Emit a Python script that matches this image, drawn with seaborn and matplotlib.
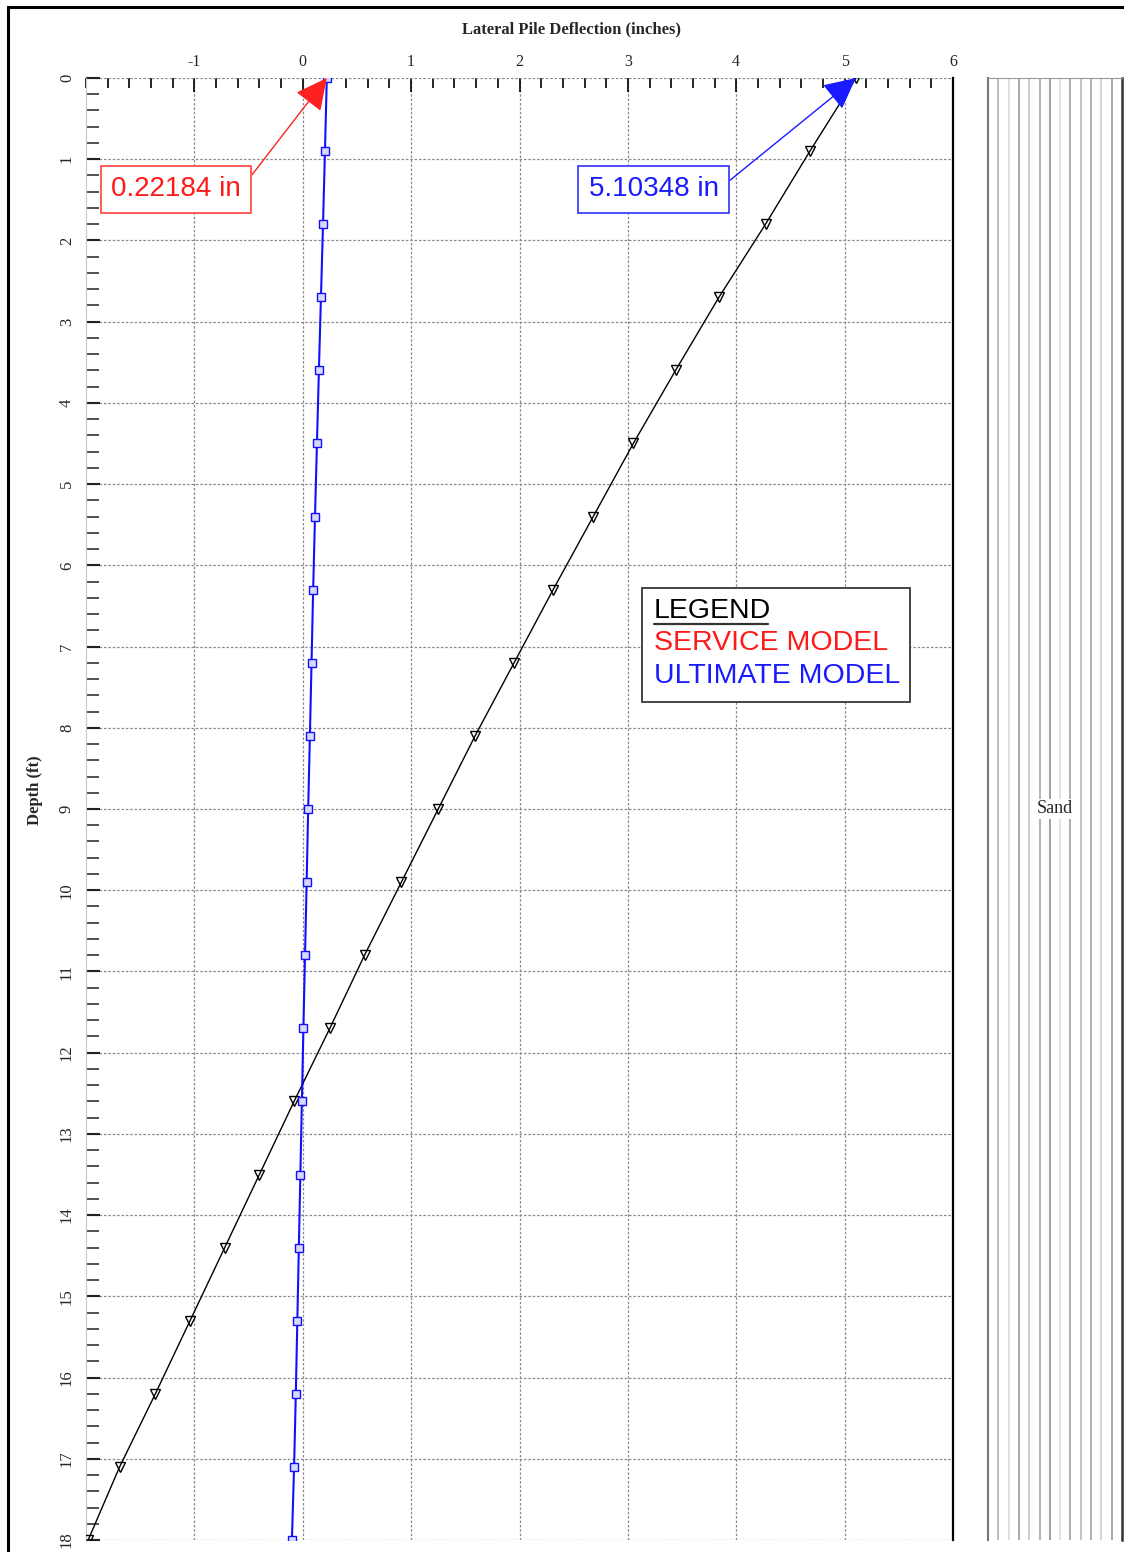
import matplotlib
matplotlib.use("Agg")
import matplotlib.pyplot as plt
from matplotlib.patches import Rectangle
from matplotlib.lines import Line2D
from matplotlib.ticker import MultipleLocator, FixedLocator
import seaborn as sns
import pandas as pd

# depths (ft) where the deflections were read, every 0.9 ft
depth = [0.0, 0.9, 1.8, 2.7, 3.6, 4.5, 5.4, 6.3, 7.2, 8.1, 9.0,
         9.9, 10.8, 11.7, 12.6, 13.5, 14.4, 15.3, 16.2, 17.1, 18.0]

# black curve (triangles) - ultimate model
defl_ultimate = [5.10348, 4.68, 4.27, 3.84, 3.44, 3.05, 2.68, 2.31, 1.95, 1.59, 1.25,
                 0.91, 0.57, 0.25, -0.08, -0.40, -0.72, -1.04, -1.36, -1.69, -1.98]

# blue curve (squares) - service model
defl_service = [0.22184, 0.205, 0.187, 0.168, 0.149, 0.131, 0.113, 0.096, 0.081, 0.066, 0.050,
                0.036, 0.021, 0.006, -0.008, -0.022, -0.036, -0.050, -0.064, -0.080, -0.100]

xtick_vals = [-1, 0, 1, 2, 3, 4, 5, 6]
ytick_vals = list(range(0, 19))

max_service = 0.22184
max_ultimate = 5.10348

df = pd.DataFrame({"Depth": depth, "Ultimate": defl_ultimate, "Service": defl_service})

sns.set_style("white")
plt.rcParams["font.family"] = ["Liberation Serif", "DejaVu Serif"]
plt.rcParams["axes.unicode_minus"] = False

W, H = 1124, 1552
fig = plt.figure(figsize=(W / 100, H / 100), dpi=100)

ax = fig.add_axes([86 / W, 1 - 1540 / H, (953 - 86) / W, (1540 - 78) / H])
soil = fig.add_axes([988 / W, 1 - 1540 / H, (1122 - 988) / W, (1540 - 78) / H])

# curves
sns.lineplot(data=df, x="Ultimate", y="Depth", sort=False, ax=ax, color="black", lw=1.0,
             marker="v", markersize=7.5, markerfacecolor="none", markeredgecolor="black",
             markeredgewidth=1.0, zorder=3)
sns.lineplot(data=df, x="Service", y="Depth", sort=False, ax=ax, color="#1010ff", lw=1.5,
             marker="s", markersize=6, markerfacecolor="#d8d8ff", markeredgecolor="#1010ff",
             markeredgewidth=1.0, zorder=4)

ax.set_xlim(-2, 6)
ax.set_ylim(18, 0)
ax.set_xlabel("")
ax.set_ylabel("")

# axis ticks on top / left, pointing inward
ax.xaxis.tick_top()
ax.xaxis.set_major_locator(FixedLocator(xtick_vals))
ax.xaxis.set_minor_locator(MultipleLocator(0.2))
ax.yaxis.set_major_locator(FixedLocator(ytick_vals))
ax.yaxis.set_minor_locator(MultipleLocator(0.2))
ax.tick_params(axis="x", which="major", direction="in", length=10, width=1.2, color="black",
               labelsize=11.5, pad=6, top=True, bottom=False)
ax.tick_params(axis="x", which="minor", direction="in", length=7, width=1.2, color="black",
               top=True, bottom=False)
ax.tick_params(axis="y", which="major", direction="in", length=10, width=1.5, color="#222222",
               labelsize=12, pad=8, left=True, right=False)
ax.tick_params(axis="y", which="minor", direction="in", length=9, width=1.2, color="#333333",
               left=True, right=False)
ax.set_yticklabels([str(v) for v in ytick_vals], rotation=90, va="center")

ax.grid(True, which="major", color="#8a8a8a", linestyle=(0, (2, 1.5)), linewidth=0.9)
ax.set_axisbelow(True)
for s in ["top", "bottom"]:
    ax.spines[s].set_visible(False)
ax.spines["left"].set_color("#c8c8c8")
ax.spines["left"].set_linewidth(0.8)
ax.spines["right"].set_color("black")
ax.spines["right"].set_linewidth(1.6)

# callouts for the head deflections
ax.annotate(f"{max_service:.5f} in", xy=(max_service, 0), xytext=(-1.17, 1.37),
            ha="center", va="center", fontsize=20, color="#ff1a1a", family="Liberation Sans",
            bbox=dict(boxstyle="square,pad=0.38", fc="white", ec="#ff4040", lw=1.2),
            arrowprops=dict(arrowstyle="-|>,head_length=0.9,head_width=0.45", color="#ff2020",
                            lw=1.0, relpos=(1, 0.5), mutation_scale=22, shrinkA=0, shrinkB=0),
            annotation_clip=False, zorder=6)
ax.annotate(f"{max_ultimate:.5f} in", xy=(max_ultimate, 0), xytext=(3.24, 1.37),
            ha="center", va="center", fontsize=20, color="#1a1aff", family="Liberation Sans",
            bbox=dict(boxstyle="square,pad=0.38", fc="white", ec="#3030ff", lw=1.2),
            arrowprops=dict(arrowstyle="-|>,head_length=0.9,head_width=0.45", color="#1a1aff",
                            lw=1.0, relpos=(1, 0.5), mutation_scale=22, shrinkA=0, shrinkB=0),
            annotation_clip=False, zorder=6)

# legend box drawn by hand
ax.add_patch(Rectangle((0.641, 0.573), 0.309, 0.078, transform=ax.transAxes,
                       fc="white", ec="#444444", lw=1.4, zorder=5))
ax.text(0.655, 0.6355, "LEGEND", transform=ax.transAxes, fontsize=20.5, color="black",
        family="Liberation Sans", va="center", ha="left", zorder=6)
ax.add_line(Line2D([0.655, 0.787], [0.6262, 0.6262], transform=ax.transAxes,
                   color="#333333", lw=1.6, zorder=6))
ax.text(0.655, 0.6135, "SERVICE MODEL", transform=ax.transAxes, fontsize=20.5, color="#ff1a1a",
        family="Liberation Sans", va="center", ha="left", zorder=6)
ax.text(0.655, 0.591, "ULTIMATE MODEL", transform=ax.transAxes, fontsize=20.5, color="#1a1aff",
        family="Liberation Sans", va="center", ha="left", zorder=6)

# soil column
soil.set_xlim(0, 1)
soil.set_ylim(18, 0)
soil.set_xticks([])
soil.set_yticks([])
soil.set_facecolor("white")
hatch_shades = ["#bdbdbd", "#e0e0e0", "#a8a8a8", "#cccccc", "#b4b4b4", "#a0a0a0",
                "#e2e2e2", "#adadad", "#c4c4c4", "#b0b0b0", "#d4d4d4", "#a6a6a6"]
n = len(hatch_shades)
for i, c in enumerate(hatch_shades):
    soil.axvline((i + 1) / (n + 1), color=c, lw=1.4)
soil.spines["bottom"].set_visible(False)
soil.spines["top"].set_color("#999999")
soil.spines["left"].set_color("#777777")
soil.spines["left"].set_linewidth(1.5)
soil.spines["right"].set_color("#333333")
soil.spines["right"].set_linewidth(1.8)
soil.text(0.5, 9, "Sand", ha="center", va="center", fontsize=13,
          bbox=dict(boxstyle="square,pad=0.1", fc="white", ec="none"))

# titles
fig.text(572 / W, 1 - 29 / H, "Lateral Pile Deflection (inches)", ha="center", va="center",
         fontsize=12, fontweight="bold")
fig.text(35 / W, 1 - 790 / H, "Depth (ft)", ha="center", va="center", rotation=90,
         fontsize=12, fontweight="bold")

# outer frame
fig.add_artist(Rectangle((8 / W, -0.01), 1.02, 1 - 7 / H + 0.01, transform=fig.transFigure,
                         fill=False, ec="black", lw=2.2, clip_on=False))

fig.savefig("out.png", dpi=100)
